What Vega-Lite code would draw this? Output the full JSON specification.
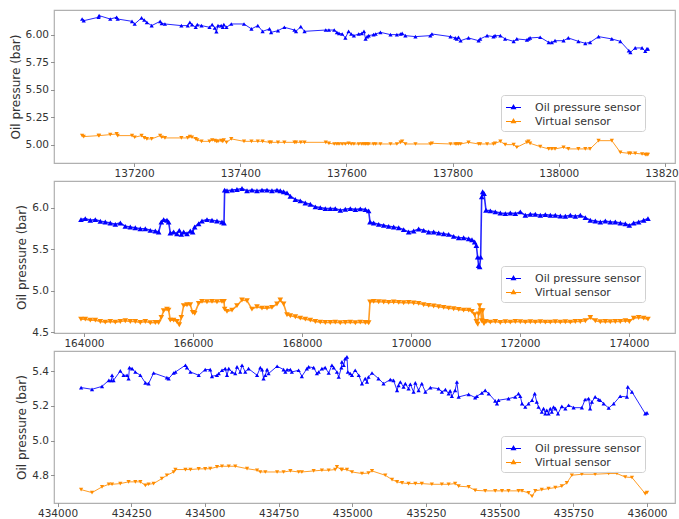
{
"$schema": "https://vega.github.io/schema/vega-lite/v6.json",
"padding": {"left": 8, "top": 9, "right": 0, "bottom": 0},
"spacing": 0,
"config": {
  "view": {"stroke": "#b0b0b0", "strokeWidth": 1.2},
  "font": "DejaVu Sans",
  "axis": {"domain": false, "grid": false, "tickColor": "#777", "tickSize": 3.5, "tickWidth": 0.8, "labelFont": "DejaVu Sans", "labelFontSize": 10.5, "labelColor": "#333", "labelPadding": 2, "titleFont": "DejaVu Sans", "titleFontSize": 12, "titleFontWeight": "normal", "titleColor": "#333", "titlePadding": 3, "labelOverlap": false, "labelFlush": false},
  "legend": {"labelFont": "DejaVu Sans", "labelFontSize": 11, "labelColor": "#333", "strokeColor": "#d0d0d0", "fillColor": "rgba(255,255,255,0.8)", "padding": 4, "cornerRadius": 3, "symbolSize": 225, "symbolStrokeWidth": 1.2, "symbolOpacity": 1, "rowPadding": 0, "labelOffset": 13, "symbolType": "M-1,0L1,0M0,-0.3L0.26,0.15L-0.26,0.15Z"}
},
"resolve": {"legend": {"color": "independent"}},
"datasets": {
"p1": [
{"t":137102,"o":6.145,"r":5.085},{"t":137105,"o":6.130,"r":5.076},{"t":137133,"o":6.161,"r":5.085},{"t":137134,"o":6.176,"r":5.085},{"t":137155,"o":6.145,"r":5.094},{"t":137167,"o":6.161,"r":5.100},{"t":137169,"o":6.145,"r":5.085},{"t":137196,"o":6.124,"r":5.085},{"t":137201,"o":6.100,"r":5.070},{"t":137214,"o":6.155,"r":5.085},{"t":137219,"o":6.136,"r":5.064},{"t":137224,"o":6.115,"r":5.055},{"t":137233,"o":6.085,"r":5.055},{"t":137249,"o":6.124,"r":5.085},{"t":137252,"o":6.106,"r":5.070},{"t":137258,"o":6.100,"r":5.064},{"t":137289,"o":6.085,"r":5.064},{"t":137301,"o":6.085,"r":5.064},{"t":137305,"o":6.115,"r":5.076},{"t":137309,"o":6.094,"r":5.070},{"t":137316,"o":6.070,"r":5.055},{"t":137319,"o":6.094,"r":5.045},{"t":137327,"o":6.085,"r":5.033},{"t":137342,"o":6.070,"r":5.033},{"t":137347,"o":6.094,"r":5.045},{"t":137352,"o":6.064,"r":5.039},{"t":137355,"o":6.030,"r":5.033},{"t":137358,"o":6.085,"r":5.033},{"t":137364,"o":6.085,"r":5.039},{"t":137367,"o":6.070,"r":5.033},{"t":137369,"o":6.094,"r":5.045},{"t":137374,"o":6.070,"r":5.024},{"t":137383,"o":6.100,"r":5.055},{"t":137407,"o":6.100,"r":5.033},{"t":137421,"o":6.055,"r":5.033},{"t":137433,"o":6.085,"r":5.033},{"t":137442,"o":6.033,"r":5.033},{"t":137455,"o":6.055,"r":5.024},{"t":137458,"o":6.024,"r":5.024},{"t":137471,"o":6.039,"r":5.024},{"t":137483,"o":6.070,"r":5.024},{"t":137502,"o":6.045,"r":5.024},{"t":137505,"o":6.033,"r":5.024},{"t":137514,"o":6.076,"r":5.024},{"t":137521,"o":6.033,"r":5.024},{"t":137561,"o":6.045,"r":5.024},{"t":137567,"o":6.045,"r":5.015},{"t":137577,"o":6.045,"r":5.009},{"t":137582,"o":6.024,"r":5.009},{"t":137586,"o":6.015,"r":5.009},
{"t":137592,"o":6.009,"r":5.009},{"t":137598,"o":5.973,"r":5.009},{"t":137604,"o":6.033,"r":5.015},{"t":137609,"o":6.009,"r":5.009},{"t":137614,"o":5.994,"r":5.009},{"t":137623,"o":6.009,"r":5.009},{"t":137629,"o":6.015,"r":5.009},{"t":137633,"o":6.033,"r":5.009},{"t":137636,"o":5.964,"r":5.009},{"t":137639,"o":5.985,"r":5.009},{"t":137642,"o":5.994,"r":5.009},{"t":137651,"o":6.003,"r":5.009},{"t":137655,"o":6.009,"r":5.009},{"t":137664,"o":6.024,"r":5.009},{"t":137683,"o":6.003,"r":5.009},{"t":137695,"o":6.003,"r":5.009},{"t":137702,"o":6.009,"r":5.024},{"t":137705,"o":6.015,"r":5.033},{"t":137711,"o":5.994,"r":5.009},{"t":137730,"o":5.985,"r":5.009},{"t":137758,"o":5.994,"r":5.009},{"t":137761,"o":6.009,"r":5.015},{"t":137796,"o":5.985,"r":5.009},{"t":137805,"o":5.973,"r":5.009},{"t":137808,"o":5.964,"r":5.009},{"t":137811,"o":5.979,"r":5.009},{"t":137815,"o":5.948,"r":5.009},{"t":137830,"o":5.973,"r":5.024},{"t":137849,"o":5.948,"r":5.009},{"t":137852,"o":5.964,"r":5.009},{"t":137865,"o":5.994,"r":5.009},{"t":137877,"o":5.985,"r":5.009},{"t":137880,"o":5.994,"r":5.015},{"t":137890,"o":5.994,"r":5.033},{"t":137899,"o":5.964,"r":5.003},{"t":137915,"o":5.942,"r":5.003},{"t":137921,"o":5.964,"r":4.979},{"t":137940,"o":5.955,"r":5.024},{"t":137943,"o":5.964,"r":5.033},{"t":137946,"o":5.973,"r":5.015},{"t":137965,"o":5.979,"r":4.985},{"t":137981,"o":5.933,"r":4.964},{"t":137987,"o":5.933,"r":4.964},{"t":137993,"o":5.948,"r":4.964},{"t":138009,"o":5.948,"r":4.979},{"t":138018,"o":5.973,"r":4.964},{"t":138037,"o":5.942,"r":4.964},{"t":138050,"o":5.924,"r":4.964},{"t":138059,"o":5.933,"r":4.964},{"t":138075,"o":5.985,"r":5.039},{"t":138100,"o":5.964,"r":5.039},{"t":138116,"o":5.942,"r":4.933},{"t":138132,"o":5.858,"r":4.924},{"t":138135,"o":5.842,"r":4.924},{"t":138144,"o":5.882,"r":4.924},{"t":138157,"o":5.882,"r":4.918},{"t":138163,"o":5.852,"r":4.912},{"t":138166,"o":5.873,"r":4.912},{"t":138168,"o":5.873,"r":4.912}
],
"p2": [
{"t":163945,"o":5.855,"r":4.657},{"t":164024,"o":5.867,"r":4.657},{"t":164116,"o":5.847,"r":4.645},{"t":164208,"o":5.855,"r":4.645},{"t":164300,"o":5.835,"r":4.629},{"t":164391,"o":5.827,"r":4.621},{"t":164483,"o":5.815,"r":4.629},{"t":164575,"o":5.798,"r":4.621},{"t":164667,"o":5.815,"r":4.629},{"t":164758,"o":5.774,"r":4.637},{"t":164850,"o":5.766,"r":4.629},{"t":164942,"o":5.758,"r":4.629},{"t":165034,"o":5.746,"r":4.617},{"t":165125,"o":5.746,"r":4.629},{"t":165217,"o":5.726,"r":4.613},{"t":165309,"o":5.718,"r":4.617},{"t":165370,"o":5.706,"r":4.617},{"t":165419,"o":5.827,"r":4.677},{"t":165462,"o":5.855,"r":4.758},{"t":165523,"o":5.847,"r":4.778},{"t":165553,"o":5.827,"r":4.766},{"t":165584,"o":5.694,"r":4.645},{"t":165645,"o":5.706,"r":4.645},{"t":165706,"o":5.685,"r":4.629},{"t":165749,"o":5.726,"r":4.589},{"t":165786,"o":5.677,"r":4.677},{"t":165829,"o":5.706,"r":4.819},{"t":165890,"o":5.685,"r":4.831},{"t":165951,"o":5.718,"r":4.831},{"t":165994,"o":5.706,"r":4.738},{"t":166031,"o":5.766,"r":4.726},{"t":166104,"o":5.806,"r":4.847},{"t":166165,"o":5.839,"r":4.871},{"t":166257,"o":5.855,"r":4.867},{"t":166349,"o":5.847,"r":4.871},{"t":166440,"o":5.839,"r":4.867},{"t":166532,"o":5.827,"r":4.871},{"t":166569,"o":5.815,"r":4.871},{"t":166581,"o":6.210,"r":4.778},{"t":166624,"o":6.202,"r":4.750},{"t":166716,"o":6.210,"r":4.766},{"t":166807,"o":6.218,"r":4.819},{"t":166899,"o":6.230,"r":4.887},{"t":166991,"o":6.202,"r":4.879},{"t":167082,"o":6.210,"r":4.778},{"t":167174,"o":6.202,"r":4.806},{"t":167266,"o":6.210,"r":4.790},{"t":167358,"o":6.210,"r":4.790},{"t":167449,"o":6.202,"r":4.798},{"t":167541,"o":6.210,"r":4.839},{"t":167602,"o":6.202,"r":4.887},{"t":167663,"o":6.190,"r":4.839},{"t":167725,"o":6.177,"r":4.710},{"t":167786,"o":6.137,"r":4.698},{"t":167878,"o":6.097,"r":4.686},{"t":167969,"o":6.081,"r":4.669},{"t":168061,"o":6.056,"r":4.657},{"t":168153,"o":6.040,"r":4.645},{"t":168245,"o":6.008,"r":4.629},{"t":168336,"o":6.000,"r":4.621},{"t":168428,"o":5.988,"r":4.617},{"t":168520,"o":5.988,"r":4.617},{"t":168611,"o":5.988,"r":4.621},{"t":168703,"o":5.968,"r":4.613},
{"t":168795,"o":5.980,"r":4.617},{"t":168887,"o":5.988,"r":4.621},{"t":168979,"o":5.976,"r":4.613},{"t":169070,"o":5.984,"r":4.621},{"t":169162,"o":5.976,"r":4.617},{"t":169223,"o":5.960,"r":4.613},{"t":169248,"o":5.827,"r":4.863},{"t":169315,"o":5.815,"r":4.871},{"t":169407,"o":5.798,"r":4.867},{"t":169499,"o":5.786,"r":4.863},{"t":169590,"o":5.774,"r":4.859},{"t":169682,"o":5.766,"r":4.863},{"t":169774,"o":5.758,"r":4.859},{"t":169865,"o":5.734,"r":4.855},{"t":169957,"o":5.706,"r":4.859},{"t":170049,"o":5.718,"r":4.851},{"t":170141,"o":5.742,"r":4.847},{"t":170232,"o":5.726,"r":4.831},{"t":170324,"o":5.706,"r":4.823},{"t":170416,"o":5.706,"r":4.815},{"t":170508,"o":5.694,"r":4.806},{"t":170599,"o":5.685,"r":4.798},{"t":170691,"o":5.677,"r":4.790},{"t":170783,"o":5.653,"r":4.782},{"t":170875,"o":5.637,"r":4.774},{"t":170966,"o":5.637,"r":4.766},{"t":171058,"o":5.625,"r":4.766},{"t":171119,"o":5.613,"r":4.750},{"t":171168,"o":5.585,"r":4.710},{"t":171199,"o":5.544,"r":4.629},{"t":171223,"o":5.403,"r":4.597},{"t":171241,"o":5.302,"r":4.718},{"t":171260,"o":5.286,"r":4.819},{"t":171278,"o":5.403,"r":4.758},{"t":171297,"o":6.129,"r":4.637},{"t":171315,"o":6.190,"r":4.758},{"t":171340,"o":6.169,"r":4.605},{"t":171376,"o":5.968,"r":4.629},{"t":171456,"o":5.960,"r":4.621},{"t":171547,"o":5.948,"r":4.629},{"t":171639,"o":5.935,"r":4.617},{"t":171731,"o":5.927,"r":4.625},{"t":171823,"o":5.935,"r":4.621},{"t":171914,"o":5.927,"r":4.629},{"t":172006,"o":5.948,"r":4.625},{"t":172098,"o":5.907,"r":4.621},{"t":172190,"o":5.919,"r":4.625},{"t":172281,"o":5.919,"r":4.621},{"t":172373,"o":5.907,"r":4.625},{"t":172465,"o":5.915,"r":4.621},{"t":172557,"o":5.907,"r":4.621},{"t":172648,"o":5.907,"r":4.625},{"t":172740,"o":5.899,"r":4.621},{"t":172832,"o":5.895,"r":4.625},{"t":172924,"o":5.907,"r":4.621},{"t":173015,"o":5.895,"r":4.629},{"t":173107,"o":5.907,"r":4.629},{"t":173199,"o":5.879,"r":4.637},{"t":173290,"o":5.847,"r":4.677},{"t":173382,"o":5.839,"r":4.637},{"t":173474,"o":5.827,"r":4.625},{"t":173566,"o":5.839,"r":4.629},{"t":173657,"o":5.827,"r":4.625},{"t":173749,"o":5.827,"r":4.629},{"t":173841,"o":5.815,"r":4.629},{"t":173933,"o":5.806,"r":4.637},{"t":174006,"o":5.786,"r":4.629},{"t":174086,"o":5.815,"r":4.669},{"t":174177,"o":5.827,"r":4.677},{"t":174269,"o":5.847,"r":4.669},{"t":174348,"o":5.867,"r":4.657}
],
"p3": [
{"t":434080,"o":5.306},{"t":434117,"o":5.296},{"t":434151,"o":5.313},{"t":434174,"o":5.348},{"t":434183,"o":5.348},{"t":434185,"o":5.377},{"t":434190,"o":5.348},{"t":434213,"o":5.402},{"t":434224,"o":5.377},{"t":434236,"o":5.377},{"t":434241,"o":5.358},{"t":434244,"o":5.421},{"t":434253,"o":5.415},{"t":434264,"o":5.396},{"t":434281,"o":5.377},{"t":434298,"o":5.333},{"t":434309,"o":5.329},{"t":434326,"o":5.390},{"t":434371,"o":5.363},{"t":434377,"o":5.358},{"t":434394,"o":5.390},{"t":434400,"o":5.396},{"t":434434,"o":5.435},{"t":434439,"o":5.421},{"t":434451,"o":5.396},{"t":434479,"o":5.377},{"t":434501,"o":5.410},{"t":434518,"o":5.410},{"t":434524,"o":5.371},{"t":434541,"o":5.377},{"t":434547,"o":5.387},{"t":434558,"o":5.406},{"t":434569,"o":5.415},{"t":434575,"o":5.377},{"t":434581,"o":5.415},{"t":434592,"o":5.396},{"t":434603,"o":5.387},{"t":434609,"o":5.425},{"t":434620,"o":5.396},{"t":434626,"o":5.435},{"t":434637,"o":5.396},{"t":434648,"o":5.415},{"t":434677,"o":5.377},{"t":434688,"o":5.421},{"t":434694,"o":5.410},{"t":434699,"o":5.358},{"t":434705,"o":5.377},{"t":434711,"o":5.410},{"t":434716,"o":5.387},{"t":434745,"o":5.429},{"t":434767,"o":5.410},{"t":434773,"o":5.396},{"t":434779,"o":5.410},{"t":434790,"o":5.410},{"t":434795,"o":5.396},{"t":434818,"o":5.406},{"t":434829,"o":5.371},{"t":434846,"o":5.415},{"t":434852,"o":5.425},{"t":434869,"o":5.421},{"t":434880,"o":5.387},{"t":434886,"o":5.396},{"t":434897,"o":5.415},{"t":434908,"o":5.421},{"t":434920,"o":5.390},{"t":434931,"o":5.435},{"t":434937,"o":5.421},{"t":434948,"o":5.396},{"t":434954,"o":5.367},{"t":434963,"o":5.421},
{"t":434965,"o":5.454},{"t":434971,"o":5.435},{"t":434976,"o":5.473},{"t":434982,"o":5.483},{"t":434985,"o":5.396},{"t":434993,"o":5.387},{"t":434999,"o":5.377},{"t":435010,"o":5.406},{"t":435022,"o":5.377},{"t":435033,"o":5.329},{"t":435044,"o":5.358},{"t":435050,"o":5.338},{"t":435055,"o":5.367},{"t":435067,"o":5.390},{"t":435089,"o":5.358},{"t":435106,"o":5.329},{"t":435129,"o":5.352},{"t":435140,"o":5.348},{"t":435152,"o":5.290},{"t":435157,"o":5.319},{"t":435163,"o":5.338},{"t":435174,"o":5.310},{"t":435180,"o":5.329},{"t":435191,"o":5.300},{"t":435197,"o":5.325},{"t":435208,"o":5.281},{"t":435214,"o":5.333},{"t":435225,"o":5.290},{"t":435236,"o":5.329},{"t":435248,"o":5.281},{"t":435265,"o":5.306},{"t":435293,"o":5.300},{"t":435304,"o":5.281},{"t":435316,"o":5.294},{"t":435327,"o":5.271},{"t":435332,"o":5.287},{"t":435338,"o":5.256},{"t":435349,"o":5.290},{"t":435355,"o":5.338},{"t":435361,"o":5.252},{"t":435395,"o":5.267},{"t":435417,"o":5.248},{"t":435423,"o":5.256},{"t":435440,"o":5.275},{"t":435451,"o":5.290},{"t":435463,"o":5.271},{"t":435485,"o":5.229},{"t":435491,"o":5.213},{"t":435496,"o":5.233},{"t":435530,"o":5.242},{"t":435553,"o":5.252},{"t":435564,"o":5.271},{"t":435570,"o":5.256},{"t":435576,"o":5.213},{"t":435587,"o":5.194},{"t":435598,"o":5.213},{"t":435610,"o":5.233},{"t":435619,"o":5.271},{"t":435626,"o":5.223},{"t":435632,"o":5.194},{"t":435643,"o":5.165},{"t":435649,"o":5.185},{"t":435655,"o":5.156},{"t":435660,"o":5.175},{"t":435666,"o":5.156},{"t":435672,"o":5.185},{"t":435677,"o":5.165},{"t":435683,"o":5.194},{"t":435689,"o":5.185},{"t":435698,"o":5.156},{"t":435711,"o":5.198},{"t":435723,"o":5.185},{"t":435734,"o":5.204},{"t":435751,"o":5.190},{"t":435779,"o":5.190},{"t":435790,"o":5.237},{"t":435802,"o":5.242},{"t":435807,"o":5.185},{"t":435813,"o":5.223},{"t":435824,"o":5.252},{"t":435836,"o":5.237},{"t":435841,"o":5.233},{"t":435853,"o":5.213},{"t":435870,"o":5.188},{"t":435887,"o":5.213},{"t":435909,"o":5.256},{"t":435932,"o":5.252},{"t":435935,"o":5.310},{"t":435949,"o":5.281},{"t":435994,"o":5.156},{"t":436000,"o":5.160},
{"t":434080,"r":4.717},{"t":434117,"r":4.700},{"t":434151,"r":4.733},{"t":434174,"r":4.748},{"t":434185,"r":4.748},{"t":434213,"r":4.752},{"t":434241,"r":4.762},{"t":434264,"r":4.762},{"t":434281,"r":4.762},{"t":434298,"r":4.742},{"t":434309,"r":4.748},{"t":434326,"r":4.752},{"t":434354,"r":4.781},{"t":434371,"r":4.800},{"t":434394,"r":4.819},{"t":434400,"r":4.833},{"t":434434,"r":4.833},{"t":434451,"r":4.833},{"t":434479,"r":4.837},{"t":434501,"r":4.837},{"t":434518,"r":4.838},{"t":434541,"r":4.848},{"t":434558,"r":4.852},{"t":434581,"r":4.852},{"t":434603,"r":4.852},{"t":434643,"r":4.838},{"t":434677,"r":4.829},{"t":434688,"r":4.819},{"t":434705,"r":4.819},{"t":434745,"r":4.819},{"t":434767,"r":4.819},{"t":434790,"r":4.825},{"t":434818,"r":4.819},{"t":434829,"r":4.819},{"t":434869,"r":4.825},{"t":434897,"r":4.829},{"t":434920,"r":4.829},{"t":434942,"r":4.833},{"t":434948,"r":4.848},{"t":434963,"r":4.833},
{"t":434965,"r":4.833},{"t":434982,"r":4.833},{"t":434999,"r":4.819},{"t":435033,"r":4.810},{"t":435055,"r":4.813},{"t":435067,"r":4.825},{"t":435112,"r":4.800},{"t":435135,"r":4.775},{"t":435152,"r":4.762},{"t":435169,"r":4.756},{"t":435191,"r":4.752},{"t":435214,"r":4.752},{"t":435236,"r":4.752},{"t":435270,"r":4.748},{"t":435304,"r":4.748},{"t":435327,"r":4.748},{"t":435349,"r":4.752},{"t":435361,"r":4.737},{"t":435395,"r":4.733},{"t":435417,"r":4.713},{"t":435451,"r":4.710},{"t":435485,"r":4.710},{"t":435508,"r":4.710},{"t":435530,"r":4.710},{"t":435564,"r":4.710},{"t":435576,"r":4.710},{"t":435598,"r":4.698},{"t":435610,"r":4.679},{"t":435621,"r":4.710},{"t":435643,"r":4.717},{"t":435666,"r":4.723},{"t":435689,"r":4.729},{"t":435711,"r":4.737},{"t":435728,"r":4.756},{"t":435745,"r":4.800},{"t":435779,"r":4.806},{"t":435824,"r":4.806},{"t":435870,"r":4.810},{"t":435898,"r":4.810},{"t":435926,"r":4.790},{"t":435949,"r":4.787},{"t":435994,"r":4.694},{"t":436000,"r":4.700}
]
},
"vconcat": [
{
  "width": 621, "height": 153,
  "data": {"name": "p1"},
  "transform": [{"fold": ["o", "r"], "as": ["s", "v"]}, {"filter": "isValid(datum.v)"}],
  "encoding": {
    "x": {"field": "t", "type": "quantitative", "scale": {"domain": [137049, 138219], "nice": false, "zero": false}, "axis": {"values": [137200, 137400, 137600, 137800, 138000, 138200], "format": "d", "title": null}},
    "y": {"field": "v", "type": "quantitative", "scale": {"domain": [4.836, 6.227], "nice": false, "zero": false}, "axis": {"values": [5, 5.25, 5.5, 5.75, 6], "format": ".2f", "title": "Oil pressure (bar)"}},
    "color": {"field": "s", "type": "nominal", "scale": {"domain": ["o", "r"], "range": ["#0000ff", "#ff8c00"]},
      "legend": {"orient": "none", "legendX": 447, "legendY": 85, "title": null, "labelExpr": "datum.value == 'o' ? 'Oil pressure sensor' : 'Virtual sensor'"}}
  },
  "layer": [
    {"mark": {"type": "line", "strokeWidth": 1, "opacity": 0.85}, "encoding": {}},
    {"mark": {"type": "point", "filled": true, "size": 18, "opacity": 1}, "encoding": {"shape": {"field": "s", "type": "nominal", "scale": {"domain": ["o", "r"], "range": ["triangle-up", "triangle-down"]}, "legend": null}}}
  ]
},
{
  "width": 621, "height": 152,
  "data": {"name": "p2"},
  "transform": [{"fold": ["o", "r"], "as": ["s", "v"]}, {"filter": "isValid(datum.v)"}],
  "encoding": {
    "x": {"field": "t", "type": "quantitative", "scale": {"domain": [163450, 174844], "nice": false, "zero": false}, "axis": {"values": [164000, 166000, 168000, 170000, 172000, 174000], "format": "d", "title": null}},
    "y": {"field": "v", "type": "quantitative", "scale": {"domain": [4.49, 6.32], "nice": false, "zero": false}, "axis": {"values": [4.5, 5, 5.5, 6], "format": ".1f", "title": "Oil pressure (bar)"}},
    "color": {"field": "s", "type": "nominal", "scale": {"domain": ["o", "r"], "range": ["#0000ff", "#ff8c00"]},
      "legend": {"orient": "none", "legendX": 447, "legendY": 85, "title": null, "labelExpr": "datum.value == 'o' ? 'Oil pressure sensor' : 'Virtual sensor'"}}
  },
  "layer": [
    {"mark": {"type": "line", "strokeWidth": 1.6, "opacity": 0.85}, "encoding": {}},
    {"mark": {"type": "point", "filled": true, "size": 32, "opacity": 1}, "encoding": {"shape": {"field": "s", "type": "nominal", "scale": {"domain": ["o", "r"], "range": ["triangle-up", "triangle-down"]}, "legend": null}}}
  ]
},
{
  "width": 621, "height": 152,
  "data": {"name": "p3"},
  "transform": [{"fold": ["o", "r"], "as": ["s", "v"]}, {"filter": "isValid(datum.v)"}],
  "encoding": {
    "x": {"field": "t", "type": "quantitative", "scale": {"domain": [433988, 436095], "nice": false, "zero": false}, "axis": {"values": [434000, 434250, 434500, 434750, 435000, 435250, 435500, 435750, 436000], "format": "d", "title": null}},
    "y": {"field": "v", "type": "quantitative", "scale": {"domain": [4.64, 5.517], "nice": false, "zero": false}, "axis": {"values": [4.8, 5, 5.2, 5.4], "format": ".1f", "title": "Oil pressure (bar)"}},
    "color": {"field": "s", "type": "nominal", "scale": {"domain": ["o", "r"], "range": ["#0000ff", "#ff8c00"]},
      "legend": {"orient": "none", "legendX": 447, "legendY": 85, "title": null, "labelExpr": "datum.value == 'o' ? 'Oil pressure sensor' : 'Virtual sensor'"}}
  },
  "layer": [
    {"mark": {"type": "line", "strokeWidth": 1, "opacity": 0.85}, "encoding": {}},
    {"mark": {"type": "point", "filled": true, "size": 18, "opacity": 1}, "encoding": {"shape": {"field": "s", "type": "nominal", "scale": {"domain": ["o", "r"], "range": ["triangle-up", "triangle-down"]}, "legend": null}}}
  ]
}
]
}
